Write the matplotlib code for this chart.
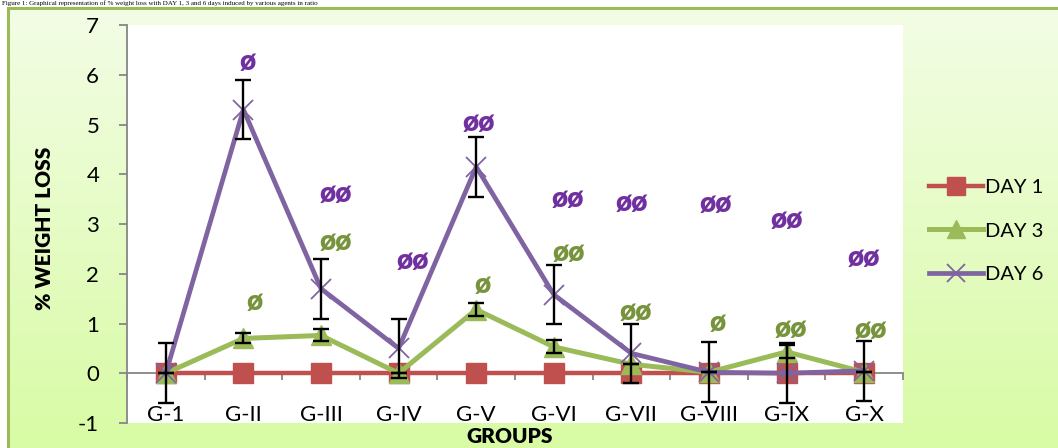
import numpy as np
import matplotlib
matplotlib.use("Agg")
import matplotlib.pyplot as plt
from matplotlib.patches import Rectangle

# ---------------- data ----------------
groups = ["G-1", "G-II", "G-III", "G-IV", "G-V", "G-VI", "G-VII", "G-VIII", "G-IX", "G-X"]
day1 = [0.0, 0.0, 0.0, 0.0, 0.0, 0.0, 0.0, 0.0, 0.0, 0.0]
day3 = [0.0, 0.70, 0.76, 0.0, 1.28, 0.53, 0.18, 0.02, 0.43, 0.02]
day6 = [0.0, 5.30, 1.70, 0.50, 4.15, 1.58, 0.40, 0.02, 0.0, 0.05]
day3_err = [0.0, 0.10, 0.12, 0.0, 0.13, 0.13, 0.0, 0.0, 0.13, 0.0]
day6_err = [0.6, 0.6, 0.6, 0.6, 0.6, 0.6, 0.6, 0.6, 0.6, 0.6]

# significance marks and their label heights (y values)
day3_marks = ["", "ø", "øø", "", "ø", "øø", "øø", "ø", "øø", "øø"]
day3_mark_y = [0, 1.43, 2.63, 0, 1.77, 2.41, 1.24, 1.02, 0.88, 0.86]
day6_marks = ["", "ø", "øø", "øø", "øø", "øø", "øø", "øø", "øø", "øø"]
day6_mark_y = [0, 6.25, 3.60, 2.25, 5.03, 3.50, 3.43, 3.41, 3.09, 2.31]

yticks = [-1, 0, 1, 2, 3, 4, 5, 6, 7]
series_names = ["DAY 1", "DAY 3", "DAY 6"]
caption = "Figure 1: Graphical representation of % weight loss with DAY 1, 3 and 6 days induced by various agents in ratio"

# ---------------- layout / style ----------------
W, H = 1058, 448
FONT = "Lato"
c_red, c_green, c_purple = "#C0504D", "#9BBB59", "#8064A2"
c_txt_green, c_txt_purple = "#77933C", "#7030A0"
axis_grey = "#868686"
# horizontal nudges of the mark labels (in category units)
day3_dx = [0, 0.15, 0.19, 0, 0.08, 0.19, 0.06, 0.11, 0.06, 0.08]
day6_dx = [0, 0.06, 0.19, 0.18, 0.03, 0.18, 0.0, 0.09, 0.0, 0.0]

plt.rcParams['font.family'] = [FONT, 'DejaVu Sans']

fig = plt.figure(figsize=(W / 100, H / 100), dpi=100)
fig.patch.set_facecolor("white")

# gradient background panel
bg = fig.add_axes([8 / W, 0, 1 - 8 / W, 1 - 8 / H], zorder=-10)
grad = np.linspace(0, 1, 256).reshape(-1, 1)
top = np.array([0xF3, 0xFD, 0xE6]) / 255
bot = np.array([0xD8, 0xFB, 0xA4]) / 255
img = top[None, None, :] * (1 - grad[:, :, None]) + bot[None, None, :] * grad[:, :, None]
bg.imshow(img, aspect="auto", extent=[0, 1, 0, 1], origin="upper")
bg.set_xlim(0, 1)
bg.set_ylim(0, 1)
bg.axis("off")
fig.patches.append(Rectangle((8 / W, -0.1), 1.2, 1 - 8 / H + 0.1, transform=fig.transFigure,
                             fill=False, edgecolor="#9BBB59", linewidth=2.2, zorder=-5))

# caption strip at the top (small so that it fits above the frame)
fig.text(0.002, 1 - 0.5 / H, caption, fontsize=5, family="Liberation Serif",
         ha="left", va="top", color="black")

ax = fig.add_axes([127 / W, 1 - 423 / H, (903 - 127) / W, (423 - 25) / H])
ax.set_facecolor("white")
x = np.arange(len(groups))

ax.plot(x, day1, color=c_red, lw=3.2, marker="s", ms=14, mfc=c_red, mec=c_red,
        label=series_names[0], zorder=3, clip_on=False)
ax.plot(x, day3, color=c_green, lw=3.6, marker="^", ms=15, mfc=c_green, mec=c_green,
        label=series_names[1], zorder=4, clip_on=False)
ax.plot(x, day6, color=c_purple, lw=3.4, marker="x", ms=15, mew=1.3, mfc=c_purple, mec=c_purple,
        label=series_names[2], zorder=5, clip_on=False)

ax.errorbar(x, day3, yerr=day3_err, fmt="none", ecolor="black", elinewidth=1.7,
            capsize=6, capthick=1.7, zorder=6)
ax.errorbar(x, day6, yerr=day6_err, fmt="none", ecolor="black", elinewidth=1.7,
            capsize=6, capthick=1.7, zorder=6)

for i in range(len(groups)):
    if day6_marks[i]:
        ax.text(x[i] + day6_dx[i], day6_mark_y[i], day6_marks[i], color=c_txt_purple,
                fontsize=20, fontweight="heavy", ha="center", va="center", zorder=7)
    if day3_marks[i]:
        ax.text(x[i] + day3_dx[i], day3_mark_y[i], day3_marks[i], color=c_txt_green,
                fontsize=20, fontweight="heavy", ha="center", va="center", zorder=7)

ax.set_xlim(-0.5, len(groups) - 0.5)
ax.set_ylim(-1, 7)
ax.set_yticks(yticks)
ax.set_yticklabels([str(v) for v in yticks], fontsize=16)

ax.spines["top"].set_visible(False)
ax.spines["right"].set_visible(False)
ax.spines["bottom"].set_position(("data", 0))
for s in ("left", "bottom"):
    ax.spines[s].set_color(axis_grey)
    ax.spines[s].set_linewidth(1.3)

ax.set_xticks(np.arange(-0.5, len(groups), 1.0))
ax.set_xticklabels([])
ax.set_xticks(x, minor=True)
ax.set_xticklabels(groups, minor=True, fontsize=16)
ax.tick_params(axis="x", which="major", direction="out", length=5, width=1.3, color=axis_grey)
ax.tick_params(axis="x", which="minor", length=0, pad=23)
ax.tick_params(axis="y", direction="out", length=6, width=1.3, color=axis_grey, pad=14)

fig.text(45 / W, 1 - 228 / H, "% WEIGHT LOSS", rotation=90, fontsize=15, fontweight="heavy",
         ha="center", va="center")
fig.text(510 / W, 1 - 436 / H, "GROUPS", fontsize=15, fontweight="heavy", ha="center", va="center")

leg = fig.legend(loc="center left", bbox_to_anchor=(921 / W, 1 - 231 / H), frameon=False,
                 fontsize=14.5, handlelength=2.7, handletextpad=0.1, labelspacing=1.3,
                 borderaxespad=0)
for h in leg.legend_handles:
    h.set_markersize(13)

fig.savefig("out.png", dpi=100, facecolor=fig.get_facecolor())
